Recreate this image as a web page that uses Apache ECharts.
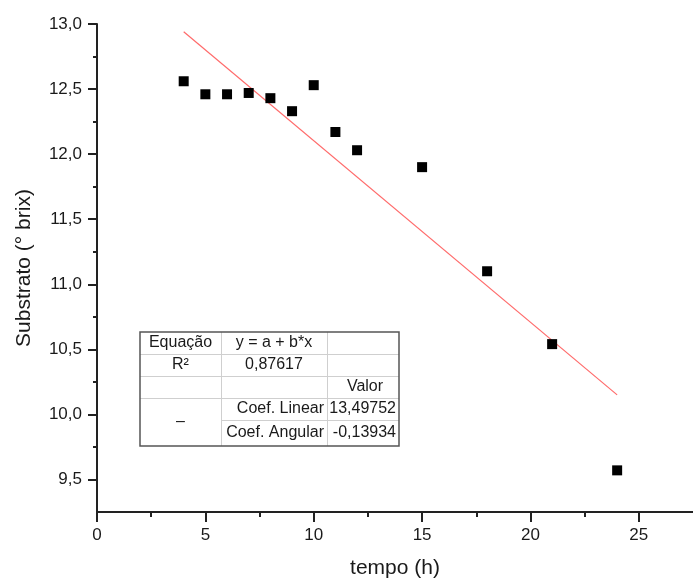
<!DOCTYPE html>
<html>
<head>
<meta charset="utf-8">
<script src="https://cdn.jsdelivr.net/npm/echarts@6/dist/echarts.min.js"></script>
<style>
html,body{margin:0;padding:0;background:#fff;}
#chart{width:693px;height:584px;}
</style>
</head>
<body>
<div id="chart"></div>
<script>
// ---- data ----
var timeH = [4, 5, 6, 7, 8, 9, 10, 11, 12, 15, 18, 21, 24];
var substrate = [12.56, 12.46, 12.46, 12.47, 12.43, 12.33, 12.53, 12.17, 12.03, 11.90, 11.10, 10.54, 9.57];
var fitX = [4, 24];
var fitY = [12.94, 10.15];
var yTicks = [9.5, 10.0, 10.5, 11.0, 11.5, 12.0, 12.5, 13.0];
var xTicks = [0, 5, 10, 15, 20, 25];
var tableRows = [
  ['Equação', 'y = a + b*x', ''],
  ['R²', '0,87617', ''],
  ['', '', 'Valor'],
  ['–', 'Coef. Linear', '13,49752'],
  ['', 'Coef. Angular', '-0,13934']
];

var FONT = 'Liberation Sans, Arial, sans-serif';
var TXT = '#1a1a1a';

function fmt1(v) { return v.toFixed(1).replace('.', ','); }

// ---- table graphic ----
var colX = [140, 221, 327, 399];
var rowY = [332, 354, 376, 398, 420, 446];
var tableEls = [];
var inner = { stroke: '#cfcfcf', lineWidth: 1 };
for (var r = 1; r < rowY.length - 1; r++) {
  var x1 = (r === 4) ? colX[1] : colX[0];
  tableEls.push({ type: 'line', shape: { x1: x1, y1: rowY[r] + 0.5, x2: colX[3], y2: rowY[r] + 0.5 }, style: inner, silent: true });
}
for (var c = 1; c < colX.length - 1; c++) {
  tableEls.push({ type: 'line', shape: { x1: colX[c] + 0.5, y1: rowY[0], x2: colX[c] + 0.5, y2: rowY[5] }, style: inner, silent: true });
}
tableEls.push({ type: 'rect', shape: { x: colX[0], y: rowY[0], width: colX[3] - colX[0], height: rowY[5] - rowY[0] },
  style: { fill: null, stroke: '#555', lineWidth: 1.5 }, silent: true });
tableRows.forEach(function (row, ri) {
  row.forEach(function (txt, ci) {
    if (!txt) return;
    var align = 'center';
    var x = (colX[ci] + colX[ci + 1]) / 2;
    var yTop = rowY[ri], yBot = rowY[ri + 1];
    if (ci === 0 && ri === 3) { yBot = rowY[5]; }
    if (ci === 1 && ri >= 3) { align = 'right'; x = colX[2] - 3; }
    if (ci === 2) { align = 'right'; x = colX[3] - 3; }
    if (ci === 2 && ri === 2) { align = 'center'; x = (colX[2] + colX[3]) / 2 + 2; }
    tableEls.push({ type: 'text', x: x, y: (yTop + yBot) / 2, silent: true,
      style: { text: txt, fill: TXT, font: '16px ' + FONT, align: align, verticalAlign: 'middle' } });
  });
});
tableEls.unshift({ type: 'rect', shape: { x: colX[0], y: rowY[0], width: colX[3] - colX[0], height: rowY[5] - rowY[0] },
  style: { fill: '#fff' }, silent: true });

var chart = echarts.init(document.getElementById('chart'), null, { renderer: 'canvas' });
chart.setOption({
  backgroundColor: '#fff',
  animation: false,
  grid: { left: 97, top: 24, width: 598, height: 490, containLabel: false },
  xAxis: {
    type: 'value', min: 0, max: 27.5,
    name: 'tempo (h)', nameLocation: 'middle', nameGap: 46,
    nameTextStyle: { fontFamily: FONT, fontSize: 21, color: TXT },
    axisLine: { show: true, onZero: false, lineStyle: { color: '#222', width: 2 } },
    axisTick: { show: true, inside: false, length: 10, lineStyle: { color: '#222', width: 2 }, customValues: xTicks },
    minorTick: { show: true, splitNumber: 2, length: 5, lineStyle: { color: '#222', width: 2 } },
    axisLabel: { customValues: xTicks, margin: 15, fontFamily: FONT, fontSize: 17, color: TXT },
    splitLine: { show: false }
  },
  yAxis: {
    type: 'value', min: 9.25, max: 13, splitNumber: 7,
    name: 'Substrato (° brix)', nameLocation: 'middle', nameGap: 62,
    nameTextStyle: { fontFamily: FONT, fontSize: 21, color: TXT },
    axisLine: { show: true, onZero: false, lineStyle: { color: '#222', width: 2 } },
    axisTick: { show: true, inside: false, length: 9, lineStyle: { color: '#222', width: 2 }, customValues: yTicks },
    minorTick: { show: true, splitNumber: 2, length: 4, lineStyle: { color: '#222', width: 2 } },
    axisLabel: { customValues: yTicks, margin: 15, fontFamily: FONT, fontSize: 17, color: TXT, formatter: fmt1 },
    splitLine: { show: false }
  },
  series: [
    {
      type: 'line', data: fitX.map(function (x, i) { return [x, fitY[i]]; }),
      showSymbol: false, symbol: 'none', lineStyle: { color: '#ff6b6b', width: 1.2 }, z: 2, silent: true
    },
    {
      type: 'scatter', data: timeH.map(function (x, i) { return [x, substrate[i]]; }),
      symbol: 'rect', symbolSize: 10, itemStyle: { color: '#000', opacity: 1 }, z: 3, silent: true
    }
  ],
  graphic: [{ type: 'group', children: tableEls, z: 10 }]
});
</script>
</body>
</html>
